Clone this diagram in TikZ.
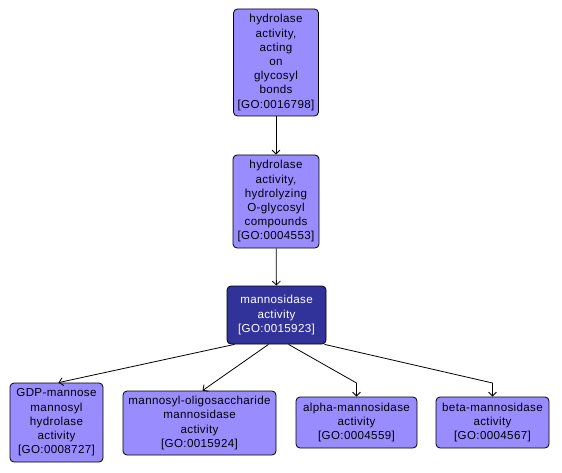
\documentclass[tikz,border=0pt]{standalone}
\usepackage{fontspec}
\setmainfont{Liberation Sans}
\usetikzlibrary{arrows.meta,calc}
\definecolor{lightgo}{RGB}{153,140,255}
\definecolor{darkgo}{RGB}{50,50,155}
\begin{document}
\begin{tikzpicture}[x=1pt,y=-1pt,
  gobox/.style={draw=black,line width=0.8pt,rounded corners=4pt,fill=lightgo,align=center,inner sep=0pt,
    font=\fontsize{11.6pt}{14.2pt}\selectfont\addfontfeature{LetterSpace=3}},
  godark/.style={gobox,fill=darkgo,text=white},
  edge/.style={draw=black,line width=0.8pt,-{Straight Barb[length=4pt,width=8pt]}}]
\useasboundingbox (0,0) rectangle (562,473);
\node[gobox,minimum width=85pt,minimum height=107pt] (a) at (276,62.5) {hydrolase\\activity,\\acting\\on\\glycosyl\\bonds\\{[GO:0016798]}};
\node[gobox,minimum width=86pt,minimum height=93pt] (b) at (276,201.5) {hydrolase\\activity,\\hydrolyzing\\O-glycosyl\\compounds\\{[GO:0004553]}};
\node[godark,minimum width=99pt,minimum height=58pt] (m) at (276.5,315) {mannosidase\\activity\\{[GO:0015923]}};
\node[gobox,minimum width=93pt,minimum height=79pt] (g) at (56.5,422.5) {GDP-mannose\\mannosyl\\hydrolase\\activity\\{[GO:0008727]}};
\node[gobox,minimum width=153pt,minimum height=64pt] (o) at (199.5,423) {mannosyl-oligosaccharide\\mannosidase\\activity\\{[GO:0015924]}};
\node[gobox,minimum width=121pt,minimum height=51pt] (al) at (356.5,422.5) {alpha-mannosidase\\activity\\{[GO:0004559]}};
\node[gobox,minimum width=113pt,minimum height=51pt] (be) at (492.5,422.5) {beta-mannosidase\\activity\\{[GO:0004567]}};
\coordinate (ka) at (356.5,383);
\coordinate (kb) at (492.5,383);
\draw[edge] (a) -- (b);
\draw[edge] (b) -- (m);
\draw[edge] ([xshift=-42pt]m.south) -- ([xshift=2pt]g.north);
\draw[edge] ([xshift=-8pt]m.south) -- ([xshift=3pt]o.north);
\draw[edge,rounded corners=0pt] ([xshift=12pt]m.south) -- (ka) -- (al.north);
\draw[edge] ([xshift=48pt]m.south) -- (kb) -- (be.north);
\end{tikzpicture}
\end{document}
